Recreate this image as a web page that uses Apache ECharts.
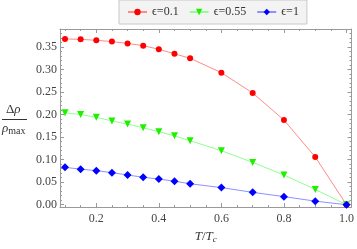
<!DOCTYPE html>
<html><head><meta charset="utf-8">
<script src="https://cdn.jsdelivr.net/npm/echarts@6/dist/echarts.min.js"></script>
<style>html,body{margin:0;padding:0;background:#fff}#c{width:357px;height:249px}</style>
</head><body><div id="c"></div>
<script>
const T = [0.1,0.15,0.2,0.25,0.3,0.35,0.4,0.45,0.5,0.6,0.7,0.8,0.9,1.0];
const eps01 = [0.368,0.367,0.365,0.362,0.358,0.353,0.345,0.335,0.325,0.293,0.248,0.188,0.106,0];
const eps055 = [0.204,0.200,0.194,0.186,0.179,0.171,0.162,0.153,0.142,0.120,0.094,0.066,0.034,0];
const eps1 = [0.083,0.079,0.0756,0.0712,0.066,0.061,0.057,0.0524,0.0465,0.038,0.0275,0.018,0.008,0];
const seriesNames = ['ϵ=0.1','ϵ=0.55','ϵ=1'];
const xMajor = [0.2,0.4,0.6,0.8,1.0];
const xMinor = [0.1,0.15,0.25,0.3,0.35,0.45,0.5,0.55,0.65,0.7,0.75,0.85,0.9,0.95];
const yMajor = [0,0.05,0.1,0.15,0.2,0.25,0.3,0.35];
const yMinor = [];
for (let i = 1; i <= 38; i++) { if (i % 5 !== 0) yMinor.push(i/100); }

const FONT = 'Liberation Serif';
const frameColor = '#9a9a9a';
const labelColor = '#444';
const xMin = 0.084, xMax = 1.016, yMin = -0.005, yMax = 0.39;

function xAx(pos, values, len, showLine, showLabel) {
  return {
    type: 'value', position: pos, min: xMin, max: xMax,
    axisLine: {show: showLine, onZero: false, lineStyle: {color: frameColor, width: 1}},
    axisTick: {show: true, inside: true, length: len, customValues: values, lineStyle: {color: frameColor}},
    axisLabel: showLabel ? {show: true, customValues: values, margin: 6, fontFamily: FONT, fontSize: 12, color: labelColor,
      formatter: v => v.toFixed(1)} : {show: false},
    splitLine: {show: false}
  };
}
function yAx(pos, values, len, showLine, showLabel) {
  return {
    type: 'value', position: pos, min: yMin, max: yMax,
    axisLine: {show: showLine, onZero: false, lineStyle: {color: frameColor, width: 1}},
    axisTick: {show: true, inside: true, length: len, customValues: values, lineStyle: {color: frameColor}},
    axisLabel: showLabel ? {show: true, customValues: values, margin: 3, fontFamily: FONT, fontSize: 12, color: labelColor,
      formatter: v => v.toFixed(2)} : {show: false},
    splitLine: {show: false}
  };
}

const xAxes = [
  xAx('bottom', xMajor, 4, true, true),
  xAx('bottom', xMinor, 2, false, false),
  xAx('top', xMajor, 4, true, false),
  xAx('top', xMinor, 2, false, false)
];
xAxes[0].name = '{i|T}{n|/}{i|T}{s|c}';
xAxes[0].nameLocation = 'middle';
xAxes[0].nameGap = 22;
xAxes[0].nameTextStyle = {rich: {
  i: {fontFamily: FONT, fontStyle: 'italic', fontSize: 13, color: '#333'},
  n: {fontFamily: FONT, fontSize: 13, color: '#333'},
  s: {fontFamily: FONT, fontStyle: 'italic', fontSize: 9, color: '#333', verticalAlign: 'bottom', padding: [6,0,0,0]}
}};
const yAxes = [
  yAx('left', yMajor, 4, true, true),
  yAx('left', yMinor, 2, false, false),
  yAx('right', yMajor, 4, true, false),
  yAx('right', yMinor, 2, false, false)
];

function pairs(ys) { return T.map((t, i) => [t, ys[i]]); }

const chart = echarts.init(document.getElementById('c'), null, {renderer: 'canvas'});
chart.setOption({
  animation: false,
  backgroundColor: '#fff',
  grid: {left: 60, right: 5, top: 29, bottom: 40},
  xAxis: xAxes,
  yAxis: yAxes,
  legend: {
    left: 119, top: 0,
    padding: [6, 8, 6, 8],
    itemGap: 10, itemWidth: 19, itemHeight: 8,
    backgroundColor: '#f3f3f3', borderColor: '#c8c8c8', borderWidth: 1,
    textStyle: {fontFamily: FONT, fontSize: 12, color: '#333'},
    data: seriesNames
  },
  graphic: [
    {type: 'text', left: 6, top: 103, style: {text: 'Δ{i|ρ}', rich: {i: {fontStyle: 'italic', fontFamily: FONT, fontSize: 13, fill: '#333'}}, font: '13px "Liberation Serif"', fill: '#333'}},
    {type: 'line', shape: {x1: 2, y1: 119.5, x2: 27, y2: 119.5}, style: {stroke: '#333', lineWidth: 1}},
    {type: 'text', left: 2, top: 122, style: {text: '{i|ρ}{s|max}', rich: {
      i: {fontStyle: 'italic', fontFamily: FONT, fontSize: 13, fill: '#333'},
      s: {fontFamily: FONT, fontSize: 10, fill: '#333', verticalAlign: 'bottom', padding: [5,0,0,0]}
    }}}
  ],
  series: [
    {name: seriesNames[0], type: 'line', data: pairs(eps01), smooth: false,
      symbol: 'circle', symbolSize: 6, itemStyle: {color: '#ff0000'}, lineStyle: {color: '#ff8a8a', width: 1}},
    {name: seriesNames[1], type: 'line', data: pairs(eps055), smooth: false,
      symbol: 'triangle', symbolRotate: 180, symbolSize: 7, itemStyle: {color: '#22ee00'}, lineStyle: {color: '#90ff90', width: 1}},
    {name: seriesNames[2], type: 'line', data: pairs(eps1), smooth: false,
      symbol: 'diamond', symbolSize: 8, itemStyle: {color: '#0000ff'}, lineStyle: {color: '#9090ff', width: 1}}
  ]
});
</script>
</body></html>
